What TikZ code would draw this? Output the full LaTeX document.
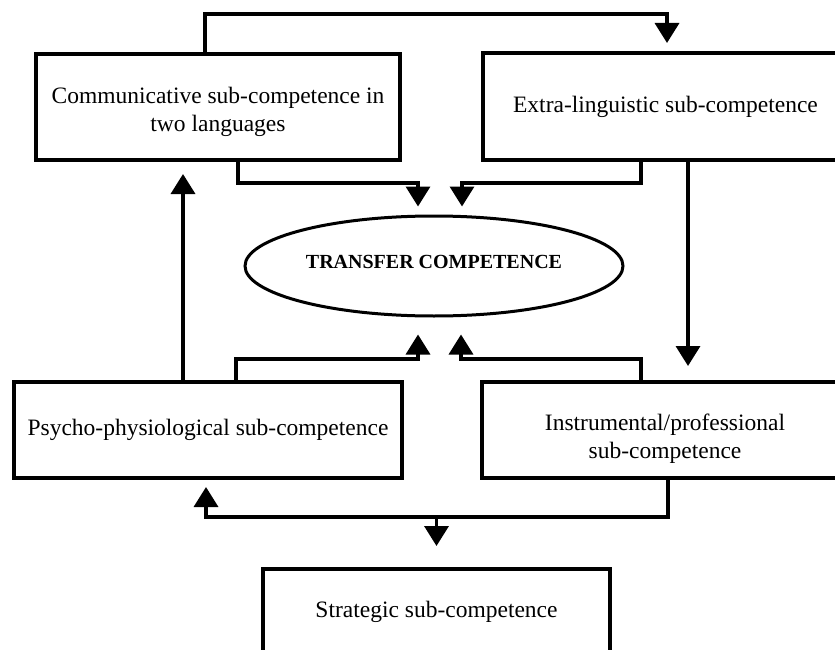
\documentclass[tikz,border=0pt]{standalone}
\usepackage{fontspec}
\setmainfont{Liberation Serif}
\usetikzlibrary{arrows.meta,shapes.geometric,calc}

\tikzset{
  box/.style={draw, line width=4pt, rectangle, inner sep=0pt, align=center,
    font=\fontsize{23.5}{28}\selectfont},
  core/.style={draw, line width=3pt, ellipse, inner sep=0pt,
    font=\fontsize{20}{24}\selectfont\bfseries},
  link/.style={line width=3.5pt, -{Triangle[length=20pt,width=24pt]}}
}
% text moved up or down inside its shape without changing the shape's size
\newcommand{\nudge}[2]{\raisebox{#1}[\height][\depth]{#2}}
\newcommand{\twolines}[2]{\begin{tabular}{@{}c@{}}#1\\#2\end{tabular}}

\begin{document}
\begin{tikzpicture}[x=1pt, y=-1pt]
  \useasboundingbox (0,0) rectangle (835,650);
  \fill[white] (0,0) rectangle (835,650);
  \clip (0,0) rectangle (835,650);

  % sub-competences around the central ellipse
  \node[box, minimum width=364pt, minimum height=106pt] (comm) at (218,107)
    {\nudge{-5pt}{\twolines{Communicative sub-competence in}{two languages}}};
  \node[box, minimum width=365pt, minimum height=107pt] (extra) at (665.5,106.5)
    {Extra-linguistic sub-competence};
  \node[core, minimum width=378pt, minimum height=100pt] (tc) at (434,266)
    {\nudge{4pt}{TRANSFER COMPETENCE}};
  \node[box, minimum width=388pt, minimum height=96pt] (psy) at (208,430)
    {Psycho-physiological sub-competence};
  \node[box, minimum width=366pt, minimum height=96pt] (instr) at (665,430)
    {\nudge{-9pt}{\twolines{Instrumental/professional}{sub-competence}}};
  \node[box, minimum width=347pt, minimum height=86pt] (strat) at (436.5,612)
    {Strategic sub-competence};

  % communicative -> extra-linguistic over the top
  \draw[link] ($(comm.north west)+(171,0)$) -- ++(0,-38)
    -| ($(extra.north west)+(186,-8)$);
  % communicative -> transfer competence
  \draw[link] ($(comm.south west)+(204,0)$) -- ++(0,21)
    -| ($(tc.north)+(-16,-8)$);
  % extra-linguistic -> transfer competence
  \draw[link] ($(extra.south west)+(160,0)$) -- ++(0,21)
    -| ($(tc.north)+(28,-8)$);
  % extra-linguistic -> instrumental
  \draw[link] ($(extra.south west)+(207,0)$) -- ($(instr.north west)+(208,-14)$);
  % psycho-physiological -> communicative
  \draw[link] ($(psy.north west)+(171,0)$) -- ($(comm.south west)+(149,12)$);
  % psycho-physiological -> transfer competence
  \draw[link] ($(psy.north west)+(224,0)$) -- ++(0,-21)
    -| ($(tc.south)+(-16,17)$);
  % instrumental -> transfer competence
  \draw[link] ($(instr.north west)+(161,0)$) -- ++(0,-21)
    -| ($(tc.south)+(27,17)$);
  % instrumental -> psycho-physiological, with a branch to strategic
  \draw[link] ($(instr.south west)+(188,0)$) -- ++(0,37)
    -| ($(psy.south west)+(194,7)$);
  \coordinate (bus) at ($(instr.south)+(0,37)$);
  \draw[link] (strat.north |- bus) -- ($(strat.north)+(0,-21)$);
\end{tikzpicture}
\end{document}
